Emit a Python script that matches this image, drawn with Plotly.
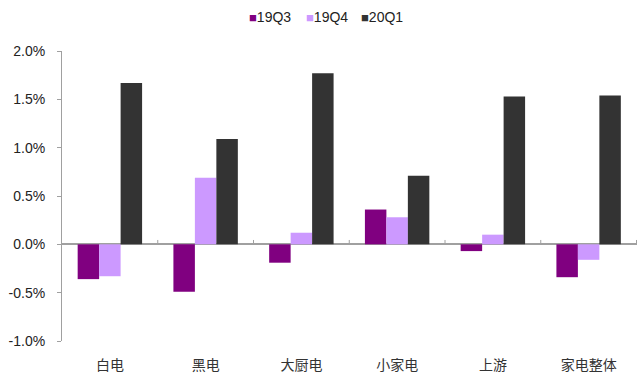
import plotly.graph_objects as go

categories = ["白电", "黑电", "大厨电", "小家电", "上游", "家电整体"]
series_names = ["19Q3", "19Q4", "20Q1"]
v_19q3 = [-0.36, -0.49, -0.19, 0.36, -0.07, -0.34]
v_19q4 = [-0.33, 0.69, 0.12, 0.28, 0.10, -0.16]
v_20q1 = [1.67, 1.09, 1.77, 0.71, 1.53, 1.54]
colors = ["#800080", "#CC99FF", "#333333"]
y_ticks = [-1.0, -0.5, 0.0, 0.5, 1.0, 1.5, 2.0]
y_tick_labels = [f"{v:.1f}%" for v in y_ticks]

fig = go.Figure()
for name, vals, col in zip(series_names, [v_19q3, v_19q4, v_20q1], colors):
    fig.add_trace(go.Bar(name=name, x=categories, y=vals, marker_color=col,
                         marker_line_width=0, showlegend=False))

# x-axis tick marks on the zero line between categories
for i in range(len(categories)):
    fig.add_shape(type="line", xref="x", yref="y", x0=i + 0.5, x1=i + 0.5,
                  y0=0, y1=0.045, line=dict(color="#a0a0a0", width=1))

# legend as annotations
legend_x = [0.322, 0.421, 0.517]
for name, col, lx in zip(series_names, colors, legend_x):
    fig.add_annotation(xref="paper", yref="paper", x=lx, y=1.0, yshift=24,
                       xanchor="left", yanchor="bottom", showarrow=False,
                       text=f'<span style="color:{col};font-size:13px">■</span>{name}',
                       font=dict(size=14, color="#222222", family="Liberation Sans, Arial"))

fig.update_layout(
    width=638, height=374,
    margin=dict(l=62, r=1, t=51, b=33),
    barmode="group", bargap=0.327, bargroupgap=0,
    plot_bgcolor="white", paper_bgcolor="white",
    font=dict(family="Liberation Sans, Arial", size=14, color="#222222"),
    xaxis=dict(showgrid=False, showline=False, ticks="", zeroline=False,
               tickfont=dict(family="Noto Sans CJK SC", size=14, color="#333333"),
               ticklabelstandoff=14),
    yaxis=dict(range=[-1.0, 2.0], tickvals=y_ticks, ticktext=y_tick_labels,
               showgrid=False, showline=True, linecolor="#a0a0a0", linewidth=1,
               ticks="outside", ticklen=4, tickcolor="#a0a0a0",
               zeroline=True, zerolinecolor="#a0a0a0", zerolinewidth=1.5,
               ticklabelstandoff=9,
               tickfont=dict(size=14, color="#222222")),
)

fig.write_html("out.html")
